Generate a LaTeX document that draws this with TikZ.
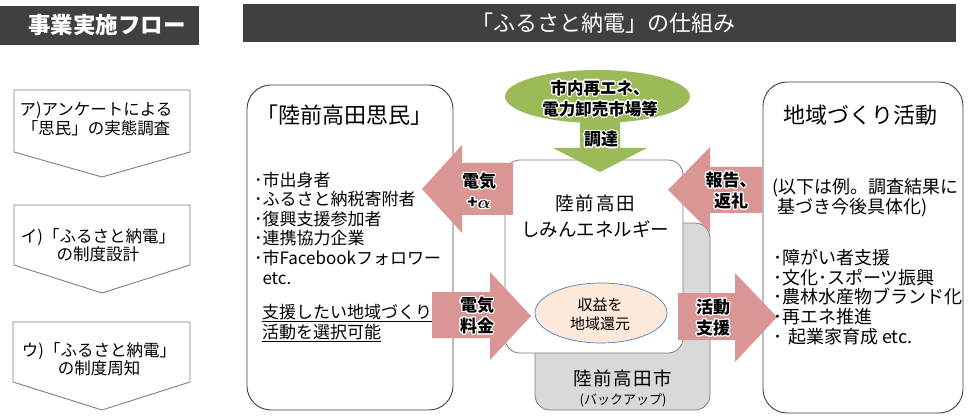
\documentclass[tikz,border=0pt]{standalone}
\usepackage{fontspec}
\setmainfont{Noto Sans CJK JP}
\usepackage{bm}
\usepackage{contour}
\contourlength{1.2pt}
\contournumber{20}
\usetikzlibrary{shapes.geometric}
\definecolor{hdr}{HTML}{404040}
\definecolor{flowgray}{HTML}{7F7F7F}
\definecolor{boxline}{HTML}{404040}
\definecolor{midline}{HTML}{7F7F7F}
\definecolor{pinkA}{HTML}{D99694}
\definecolor{greenA}{HTML}{9BBB59}
\definecolor{grayfill}{HTML}{D9D9D9}
\definecolor{peach}{HTML}{FDE9D9}
\definecolor{peachline}{HTML}{4F81BD}
\newcommand\setfs[2]{\fontsize{#1}{#2}\selectfont}
\newcommand\glow[1]{\contour{white}{#1}}
\begin{document}
\begin{tikzpicture}[x=1pt,y=-1pt,
  every node/.style={inner sep=0pt, outer sep=0pt},
  hdrbar/.style={fill=hdr, draw=none, anchor=north west},
  flowbox/.style={draw=flowgray, line width=0.9pt, fill=white},
  flowtxt/.style={font=\setfs{16.5}{18.5}, align=center},
  bigbox/.style={draw=boxline, line width=0.9pt, rounded corners=24pt, fill=white, anchor=north west},
  midbox/.style={draw=midline, line width=0.8pt, rounded corners=15pt, anchor=north west},
  blockarrow/.style={fill=pinkA, draw=none},
  arrowtxt/.style={font=\bfseries\setfs{17}{21}, align=center},
  listtxt/.style={font=\setfs{17}{19.6}, align=left, anchor=west},
  rlisttxt/.style={font=\setfs{18}{19.75}, align=left, anchor=west}
]
\useasboundingbox (0,0) rectangle (970,417);

% headers
\node[hdrbar, minimum width=199pt, minimum height=39pt] (hL) at (0,6) {};
\node[font=\bfseries\setfs{22.5}{24}, text=white] (hLt) at (107,25) {事業実施フロー};
\node[hdrbar, minimum width=713pt, minimum height=38pt] (hM) at (243,4) {};
\node[font=\setfs{22}{24}, text=white] (hMt) at (603,23) {「ふるさと納電」の仕組み};

% flow boxes
\draw[flowbox] (14,90) -- (190,90) -- (190,152) -- (102,177) -- (14,152) -- cycle;
\draw[flowbox] (14,205) -- (190,205) -- (190,265) -- (102,293) -- (14,265) -- cycle;
\draw[flowbox] (13,322) -- (190,322) -- (190,382) -- (102,410) -- (13,382) -- cycle;
\node[flowtxt] (f1) at (96,119) {ア)アンケートによる\\「思民」の実態調査};
\node[flowtxt] (f2) at (98,245) {イ)「ふるさと納電」\\の制度設計};
\node[flowtxt] (f3) at (99,359) {ウ)「ふるさと納電」\\の制度周知};

% big side boxes
\node[bigbox, minimum width=206pt, minimum height=325pt] (lbox) at (247,85) {};
\node[bigbox, minimum width=200pt, minimum height=331pt] (rbox) at (763,82) {};

% centre boxes
\node[midbox, fill=grayfill, minimum width=175pt, minimum height=187pt] (gbox) at (535,223) {};
\node[midbox, fill=white, minimum width=178pt, minimum height=193pt] (wbox) at (505,160) {};
\node[ellipse, draw=peachline, line width=0.7pt, fill=peach, minimum width=132pt, minimum height=60pt] (pe) at (601,313) {};

% green arrow + ellipse
\fill[greenA] (580,110) -- (620,110) -- (620,148) -- (647,148) -- (600,172) -- (553,148) -- (580,148) -- cycle;
\node[ellipse, fill=greenA, minimum width=185pt, minimum height=53pt] (ge) at (597.5,96.5) {};

% pink block arrows
\path[blockarrow] (513,163) -- (462,163) -- (462,145) -- (422,189) -- (462,233) -- (462,215) -- (513,215) -- cycle;
\path[blockarrow] (432,292) -- (490,292) -- (490,272) -- (531,316) -- (490,360) -- (490,338) -- (432,338) -- cycle;
\path[blockarrow] (762,167) -- (710,167) -- (710,147) -- (668,190) -- (710,232) -- (710,213) -- (762,213) -- cycle;
\path[blockarrow] (678,293) -- (735,293) -- (735,273) -- (777,317) -- (735,362) -- (735,340) -- (678,340) -- cycle;

% texts: left box
\node[font=\setfs{22}{24}] (lt) at (344,115) {「陸前高田思民」};
\node[listtxt] (ll) at (254,228) {･市出身者\\･ふるさと納税寄附者\\･復興支援参加者\\･連携協力企業\\･市Facebookフォロワー\\\phantom{･}etc.};
\node[listtxt, font=\setfs{17}{20}] (lu) at (262,323) {\underline{支援したい地域づくり}\\\underline{活動を選択可能}};

% texts: right box
\node[font=\setfs{22}{24}] (rt) at (860,115) {地域づくり活動};
\node[rlisttxt, font=\setfs{18}{20}] (rn) at (772,198) {(以下は例。調査結果に\\\hspace{5pt}基づき今後具体化)};
\node[rlisttxt] (rl) at (773,297) {･障がい者支援\\･文化･スポーツ振興\\･農林水産物ブランド化\\･再エネ推進\\･\hspace{6pt}起業家育成 etc.};

% texts: centre
\node[font=\setfs{18.5}{26}, align=center] (wt) at (595,216) {陸\kern2pt 前\kern2pt 高\kern2pt 田\\しみんエネルギー};
\node[font=\setfs{18.5}{20}] (gt) at (623,378) {陸\kern1.5pt 前\kern1.5pt 高\kern1.5pt 田\kern1.5pt 市};
\node[font=\setfs{13}{14}] (gs) at (623,400) {(バックアップ)};
\node[font=\setfs{15}{19}, align=center] (pt) at (600,314) {収益を\\地域還元};

% arrow labels
\node[arrowtxt, font=\bfseries\setfs{16.5}{21}] (gtx) at (600,99) {\glow{市内再エネ、}\\\glow{電力卸売市場等}};
\node[arrowtxt] (gtd) at (601,140) {\glow{調達}};
\node[arrowtxt] (a1) at (479,191) {\glow{電気}\\\glow{+$\bm{\alpha}$}};
\node[arrowtxt] (a2) at (477,316) {\glow{電気}\\\glow{料金}};
\node[arrowtxt] (a3) at (731,191) {\glow{報告、}\\\glow{返礼}};
\node[arrowtxt] (a4) at (713,318) {\glow{活動}\\\glow{支援}};
\end{tikzpicture}
\end{document}
